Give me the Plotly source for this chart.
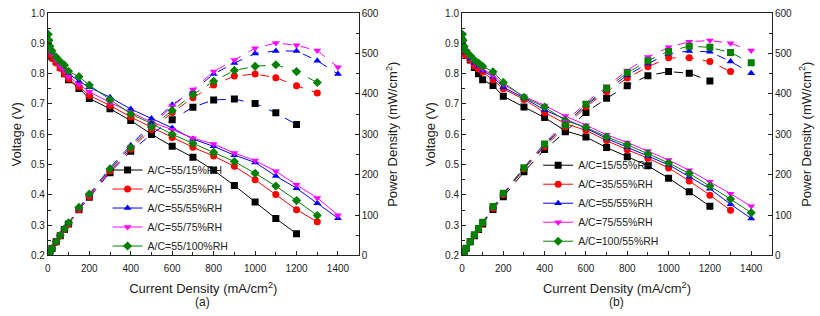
import plotly.graph_objects as go

# ---------------- data: panel (a) ----------------
I_a_15 = [2, 5, 10, 20, 40, 60, 80, 100, 150, 200, 300, 400, 500, 600, 700, 800, 900, 1000, 1100, 1200]
I_a_35 = I_a_15 + [1300]
I_a_55 = I_a_15 + [1300, 1400]
I_a_75 = I_a_15 + [1300, 1400]
I_a_100 = I_a_15 + [1300]

V_a_15 = [0.89, 0.875, 0.865, 0.855, 0.84, 0.82, 0.80, 0.78, 0.751, 0.718, 0.684, 0.645, 0.600, 0.560, 0.524, 0.481, 0.431, 0.376, 0.322, 0.272]
V_a_35 = [0.88, 0.87, 0.86, 0.85, 0.835, 0.818, 0.80, 0.782, 0.757, 0.728, 0.695, 0.657, 0.623, 0.589, 0.557, 0.528, 0.494, 0.450, 0.401, 0.351, 0.311]
V_a_55 = [0.91, 0.895, 0.885, 0.87, 0.85, 0.835, 0.815, 0.80, 0.775, 0.755, 0.722, 0.683, 0.652, 0.621, 0.584, 0.560, 0.531, 0.507, 0.462, 0.422, 0.372, 0.323]
V_a_75 = [0.90, 0.885, 0.875, 0.865, 0.845, 0.825, 0.81, 0.79, 0.765, 0.74, 0.705, 0.672, 0.64, 0.615, 0.587, 0.568, 0.538, 0.513, 0.478, 0.433, 0.390, 0.333]
V_a_100 = [0.93, 0.91, 0.89, 0.875, 0.855, 0.84, 0.828, 0.808, 0.79, 0.762, 0.714, 0.667, 0.635, 0.60, 0.570, 0.540, 0.510, 0.471, 0.429, 0.381, 0.332]

P_a_15 = [2, 4, 9, 17, 34, 49, 64, 78, 113, 144, 205, 258, 300, 336, 367, 385, 387, 376, 353, 324]
P_a_35 = [2, 4, 9, 17, 33, 49, 64, 78, 114, 146, 209, 263, 312, 354, 390, 422, 444, 449, 440, 420, 402]
P_a_55 = [2, 4, 9, 17, 34, 50, 65, 80, 116, 151, 217, 273, 326, 373, 407, 449, 476, 500, 506, 506, 482, 449]
P_a_75 = [2, 4, 9, 17, 34, 50, 65, 79, 115, 148, 212, 269, 320, 369, 411, 455, 484, 513, 526, 520, 507, 466]
P_a_100 = [2, 5, 9, 18, 34, 50, 66, 81, 119, 152, 214, 267, 318, 359, 398, 431, 458, 468, 472, 455, 428]

labels_a = ["A/C=55/15%RH", "A/C=55/35%RH", "A/C=55/55%RH", "A/C=55/75%RH", "A/C=55/100%RH"]

# ---------------- data: panel (b) ----------------
I_b_15 = [2, 5, 10, 20, 40, 60, 80, 100, 150, 200, 300, 400, 500, 600, 700, 800, 900, 1000, 1100, 1200]
I_b_35 = I_b_15 + [1300]
I_b_55 = I_b_15 + [1300, 1400]
I_b_75 = I_b_15 + [1300, 1400]
I_b_100 = I_b_15 + [1300, 1400]

V_b_15 = [0.90, 0.885, 0.875, 0.865, 0.845, 0.82, 0.80, 0.78, 0.761, 0.725, 0.69, 0.655, 0.611, 0.591, 0.556, 0.526, 0.496, 0.455, 0.41, 0.362]
V_b_35 = [0.89, 0.875, 0.865, 0.86, 0.845, 0.825, 0.815, 0.805, 0.78, 0.75, 0.715, 0.672, 0.635, 0.613, 0.579, 0.549, 0.521, 0.489, 0.446, 0.399, 0.349]
V_b_55 = [0.92, 0.89, 0.88, 0.87, 0.85, 0.835, 0.825, 0.81, 0.79, 0.755, 0.72, 0.68, 0.65, 0.62, 0.586, 0.557, 0.528, 0.499, 0.46, 0.42, 0.369, 0.322]
V_b_75 = [0.93, 0.90, 0.885, 0.875, 0.855, 0.84, 0.83, 0.815, 0.795, 0.765, 0.725, 0.695, 0.66, 0.63, 0.598, 0.573, 0.545, 0.515, 0.481, 0.443, 0.404, 0.362]
V_b_100 = [0.93, 0.91, 0.89, 0.875, 0.86, 0.845, 0.835, 0.824, 0.806, 0.771, 0.722, 0.69, 0.645, 0.623, 0.591, 0.565, 0.536, 0.505, 0.471, 0.429, 0.386, 0.341]

P_b_15 = [2, 4, 9, 17, 34, 49, 64, 78, 114, 145, 207, 262, 306, 354, 389, 420, 445, 455, 451, 432]
P_b_35 = [2, 4, 9, 17, 34, 50, 65, 80, 117, 150, 214, 269, 318, 368, 405, 439, 467, 489, 489, 480, 455]
P_b_55 = [2, 4, 9, 17, 34, 50, 66, 81, 119, 151, 216, 272, 325, 372, 410, 446, 475, 499, 506, 504, 480, 451]
P_b_75 = [2, 5, 9, 18, 34, 50, 66, 82, 119, 153, 218, 278, 330, 378, 419, 458, 491, 515, 529, 532, 525, 507]
P_b_100 = [2, 5, 9, 18, 34, 51, 67, 82, 121, 154, 217, 276, 323, 374, 414, 452, 482, 505, 518, 515, 502, 477]

labels_b = ["A/C=15/55%RH", "A/C=35/55%RH", "A/C=55/55%RH", "A/C=75/55%RH", "A/C=100/55%RH"]

colors = ["#000000", "#FF0000", "#0000FF", "#FF00FF", "#008000"]
symbols = ["square", "circle", "triangle-up", "triangle-down", "diamond"]

FONT = "Liberation Sans, Arial, sans-serif"
fig = go.Figure()

panel_a = [(I_a_15, V_a_15, P_a_15), (I_a_35, V_a_35, P_a_35), (I_a_55, V_a_55, P_a_55),
           (I_a_75, V_a_75, P_a_75), (I_a_100, V_a_100, P_a_100)]
panel_b = [(I_b_15, V_b_15, P_b_15), (I_b_35, V_b_35, P_b_35), (I_b_55, V_b_55, P_b_55),
           (I_b_75, V_b_75, P_b_75), (I_b_100, V_b_100, P_b_100)]

for k, (I, V, P) in enumerate(panel_a):
    fig.add_trace(go.Scatter(x=I, y=V, mode="lines+markers", name=labels_a[k],
                             line=dict(color=colors[k], width=1),
                             marker=dict(symbol=symbols[k], size=7, color=colors[k]),
                             xaxis="x", yaxis="y", legend="legend"))
    pcol = "#0000FF" if k == 0 else colors[k]
    fig.add_trace(go.Scatter(x=I, y=P, mode="lines+markers", name=labels_a[k] + " power",
                             line=dict(color=pcol, width=1, dash="dash"),
                             marker=dict(symbol=symbols[k], size=7, color=colors[k]),
                             xaxis="x", yaxis="y2", showlegend=False))

for k, (I, V, P) in enumerate(panel_b):
    fig.add_trace(go.Scatter(x=I, y=V, mode="lines+markers", name=labels_b[k],
                             line=dict(color=colors[k], width=1),
                             marker=dict(symbol=symbols[k], size=7, color=colors[k]),
                             xaxis="x2", yaxis="y3", legend="legend2"))
    psym = "square" if k == 4 else symbols[k]
    fig.add_trace(go.Scatter(x=I, y=P, mode="lines+markers", name=labels_b[k] + " power",
                             line=dict(color=colors[k], width=1, dash="dash"),
                             marker=dict(symbol=psym, size=7, color=colors[k]),
                             xaxis="x2", yaxis="y4", showlegend=False))

ydom = [0.1794, 0.9769]
tickfont = dict(family=FONT, size=10, color="#222")
titlefont = dict(family=FONT, size=13, color="#222")

def xax(domain, anchor):
    return dict(domain=domain, anchor=anchor, range=[0, 1500], dtick=200, tick0=0,
                ticks="inside", ticklen=4, tickcolor="#222", showline=True, linecolor="#222",
                linewidth=1, mirror=True, showgrid=False, zeroline=False, tickfont=tickfont,
                ticklabelstandoff=4,
                minor=dict(dtick=100, ticks="inside", ticklen=3, tickcolor="#222"),
                title=dict(text="Current Density (mA/cm<sup>2</sup>)", font=titlefont, standoff=10))

def yleft(anchor):
    return dict(domain=ydom, anchor=anchor, range=[0.2, 1.0], dtick=0.1, tick0=0.2,
                tickformat=".1f", ticks="inside", ticklen=4, tickcolor="#222", showline=True,
                linecolor="#222", linewidth=1, showgrid=False, zeroline=False, tickfont=tickfont,
                minor=dict(dtick=0.05, ticks="inside", ticklen=3, tickcolor="#222"),
                title=dict(text="Voltage (V)", font=titlefont, standoff=6))

def yright(anchor, overlay):
    return dict(anchor=anchor, overlaying=overlay, side="right", range=[0, 600], dtick=100,
                ticks="inside", ticklen=4, tickcolor="#222", showline=True, linecolor="#222",
                linewidth=1, showgrid=False, zeroline=False, tickfont=tickfont,
                minor=dict(dtick=50, ticks="inside", ticklen=3, tickcolor="#222"),
                title=dict(text="Power Density (mW/cm<sup>2</sup>)", font=titlefont, standoff=10))

legend_common = dict(bgcolor="rgba(0,0,0,0)", borderwidth=0, tracegroupgap=0,
                     font=dict(family=FONT, size=10.5, color="#222"),
                     xanchor="left", yanchor="middle", itemwidth=30)

fig.update_layout(
    width=820, height=316, margin=dict(l=0, r=0, t=0, b=0),
    paper_bgcolor="white", plot_bgcolor="white",
    xaxis=xax([0.0549, 0.4354], "y"),
    yaxis=yleft("x"),
    yaxis2=yright("x", "y"),
    xaxis2=xax([0.5618, 0.9411], "y3"),
    yaxis3=yleft("x2"),
    yaxis4=yright("x2", "y3"),
    legend=dict(x=0.128, y=(316 - 210) / 316, **legend_common),
    legend2=dict(x=0.655, y=(316 - 205) / 316, **legend_common),
    annotations=[
        dict(text="(a)", x=200 / 820, y=0.0, xref="paper", yref="paper",
             xanchor="center", yanchor="bottom", showarrow=False, yshift=-1,
             font=dict(family=FONT, size=12, color="#222")),
        dict(text="(b)", x=616 / 820, y=0.0, xref="paper", yref="paper",
             xanchor="center", yanchor="bottom", showarrow=False, yshift=-1,
             font=dict(family=FONT, size=12, color="#222")),
    ],
)

fig.write_html("out.html")
